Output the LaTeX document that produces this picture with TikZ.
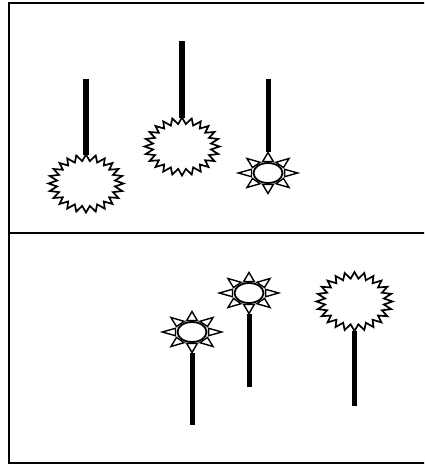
\documentclass[tikz,border=0pt]{standalone}
\usetikzlibrary{calc}
\tikzset{
  frame/.style={line width=2pt},
  stem/.style={line width=5.5pt},
  thinstem/.style={line width=5pt},
  burst/.pic={
    \draw[line width=1.7pt, miter limit=10, fill=white]
      (90:1) \foreach \i in {0,...,23} {
        -- ({90+\i*15+7.5}:0.78) -- ({90+(\i+1)*15}:1) } -- cycle;
  },
  sun/.pic={
    \draw[line width=1.8pt, fill=white] (0,0) circle (1);
    \foreach \a in {0,45,...,315}
      \draw[line width=1.4pt, line join=miter]
        ({\a-18}:1.2) -- (\a:2.05) -- ({\a+18}:1.2) -- cycle;
  }
}
\begin{document}
\begin{tikzpicture}[x=1pt,y=-1pt]
\useasboundingbox (0,0) rectangle (424,466);
\clip (0,0) rectangle (424,466);
\fill[white] (0,0) rectangle (424,466);
% frame
\draw[frame] (8.5,2.5) rectangle (440,463);
\draw[frame] (8.5,233) -- (440,233);
% top panel
\coordinate (b1t) at (86,79);   \coordinate (b1b) at (86,155);
\coordinate (b2t) at (182,41);  \coordinate (b2b) at (182,118);
\coordinate (b3t) at (268,79);  \coordinate (b3b) at (268,152);
\draw[stem] (b1t) -- (b1b);
\draw[stem] (b2t) -- (b2b);
\draw[thinstem] (b3t) -- (b3b);
\pic[xscale=37.5,yscale=29] at (86,183.5) {burst};
\pic[xscale=37.5,yscale=29] at (182,146.5) {burst};
\pic[xscale=14.5,yscale=10] at (268,173) {sun};
% bottom panel
\coordinate (b4t) at (192,353); \coordinate (b4b) at (192,425);
\coordinate (b5t) at (249,314); \coordinate (b5b) at (249,387);
\coordinate (b6t) at (354,331); \coordinate (b6b) at (354,406);
\draw[thinstem] (b4t) -- (b4b);
\draw[thinstem] (b5t) -- (b5b);
\draw[thinstem] (b6t) -- (b6b);
\pic[xscale=14.5,yscale=10] at (192,332) {sun};
\pic[xscale=14.5,yscale=10] at (249,293) {sun};
\pic[xscale=38,yscale=29.5] at (354.5,301.5) {burst};
\end{tikzpicture}
\end{document}
